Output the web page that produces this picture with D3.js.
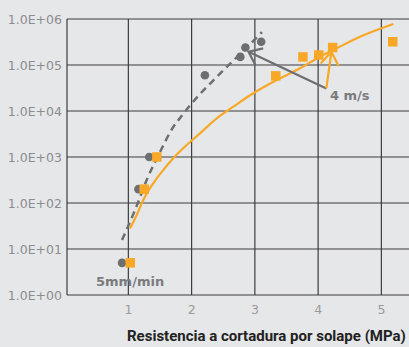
<!DOCTYPE html>
<html>
<head>
<meta charset="utf-8">
<script src="https://cdn.jsdelivr.net/npm/d3@7"></script>
<style>
  html, body { margin: 0; padding: 0; background: #e6e7e9; }
  svg { display: block; }
</style>
</head>
<body>
<svg id="chart" width="409" height="347"></svg>
<script>
// tick labels
const xTicks = [1, 2, 3, 4, 5];
const yTicks = [1, 10, 100, 1000, 1e4, 1e5, 1e6];
const yTickLabels = ["1.0E+00", "1.0E+01", "1.0E+02", "1.0E+03", "1.0E+04", "1.0E+05", "1.0E+06"];

// 5mm/min points (gray circles)
const slowX = [0.9, 1.16, 1.33, 2.21, 2.77, 2.85, 3.1];
const slowY = [5, 200, 1000, 6e4, 1.5e5, 2.4e5, 3.2e5];
// 4 m/s points (orange squares)
const fastX = [1.03, 1.25, 1.45, 3.33, 3.76, 4.01, 4.23, 5.18];
const fastY = [5, 200, 1000, 5.8e4, 1.5e5, 1.65e5, 2.4e5, 3.2e5];

// trend curves
const slowFitX = [0.9, 1.105, 1.29, 1.516, 1.69, 1.848, 1.975, 2.133, 2.397, 2.659, 2.871, 3.113];
const slowFitY = [15.7, 70, 316, 1420, 4060, 7980, 1.32e4, 2.34e4, 5.48e4, 1.25e5, 2.4e5, 5.2e5];
const fastFitX = [1.026, 1.132, 1.236, 1.394, 1.552, 1.71, 1.922, 2.133, 2.397, 2.659, 2.975, 3.345, 3.714, 4.03, 4.24, 4.662, 5.19];
const fastFitY = [28, 55, 116, 268, 522, 937, 1820, 3270, 6930, 1.24e4, 2.43e4, 4.72e4, 8.47e4, 1.51e5, 2.12e5, 4.12e5, 7.8e5];

// annotations
const arrowTail = [4.13, 3.1e4];
const arrowTipSlow = [2.90, 1.95e5];
const arrowTipFast = [4.21, 1.95e5];

var svg = d3.select("#chart");
var W = 409, H = 347;

var x = d3.scaleLinear().domain([0.03, 5.5]).range([67, 413]);
var y = d3.scaleLog().domain([1, 1e6]).range([295, 19]);

var GRID = "#3c3d3f";
var GRAY = "#6d6e70";
var ORANGE = "#f8a826";

// grid
var g = svg.append("g");
g.selectAll(".hgrid")
  .data(yTicks)
  .enter().append("line")
  .attr("x1", x(0.03)).attr("x2", W)
  .attr("y1", d => y(d)).attr("y2", d => y(d))
  .attr("stroke", GRID).attr("stroke-width", 1.2);

g.selectAll(".vgrid")
  .data([0.03].concat(xTicks))
  .enter().append("line")
  .attr("x1", d => x(d)).attr("x2", d => x(d))
  .attr("y1", y(1e6)).attr("y2", y(1))
  .attr("stroke", GRID).attr("stroke-width", 1.2);

// y tick labels
svg.selectAll(".ylab")
  .data(yTicks)
  .enter().append("text")
  .attr("x", 62)
  .attr("y", d => y(d) + 4.5)
  .attr("text-anchor", "end")
  .attr("font-family", "DejaVu Sans")
  .attr("font-size", 12.5)
  .attr("fill", "#8b8c8e")
  .text((d, i) => yTickLabels[i]);

// x tick labels
svg.selectAll(".xlab")
  .data(xTicks)
  .enter().append("text")
  .attr("x", d => x(d))
  .attr("y", 314)
  .attr("text-anchor", "middle")
  .attr("font-family", "DejaVu Sans")
  .attr("font-size", 12.5)
  .attr("fill", "#9a9b9d")
  .text(d => d);

// axis title
svg.append("text")
  .attr("x", 127)
  .attr("y", 341)
  .attr("font-family", "Roboto")
  .attr("font-weight", "bold")
  .attr("font-size", 15)
  .attr("fill", "#222")
  .text("Resistencia a cortadura por solape (MPa)");

// curves
var line = d3.line()
  .x(d => x(d[0]))
  .y(d => y(d[1]))
  .curve(d3.curveMonotoneX);

svg.append("path")
  .attr("d", line(d3.zip(slowFitX, slowFitY)))
  .attr("fill", "none")
  .attr("stroke", GRAY)
  .attr("stroke-width", 2.5)
  .attr("stroke-dasharray", "7,5");

svg.append("path")
  .attr("d", line(d3.zip(fastFitX, fastFitY)))
  .attr("fill", "none")
  .attr("stroke", ORANGE)
  .attr("stroke-width", 2.2);

// points
svg.selectAll(".slow")
  .data(d3.zip(slowX, slowY))
  .enter().append("circle")
  .attr("cx", d => x(d[0]))
  .attr("cy", d => y(d[1]))
  .attr("r", 4.3)
  .attr("fill", GRAY);

var sq = 9.5;
svg.selectAll(".fast")
  .data(d3.zip(fastX, fastY))
  .enter().append("rect")
  .attr("x", d => x(d[0]) - sq / 2)
  .attr("y", d => y(d[1]) - sq / 2)
  .attr("width", sq).attr("height", sq)
  .attr("fill", ORANGE);

// arrows
function arrow(tail, tip, color, armAngle, armLen) {
  var x0 = x(tail[0]), y0 = y(tail[1]);
  var x1 = x(tip[0]), y1 = y(tip[1]);
  var a = Math.atan2(y0 - y1, x0 - x1);
  var p = d3.path();
  p.moveTo(x0, y0);
  p.lineTo(x1, y1);
  p.moveTo(x1 + armLen * Math.cos(a + armAngle), y1 + armLen * Math.sin(a + armAngle));
  p.lineTo(x1, y1);
  p.lineTo(x1 + armLen * Math.cos(a - armAngle), y1 + armLen * Math.sin(a - armAngle));
  svg.append("path")
    .attr("d", p.toString())
    .attr("fill", "none")
    .attr("stroke", color)
    .attr("stroke-width", 2.2);
}
arrow(arrowTail, arrowTipSlow, GRAY, 0.66, 15);
arrow(arrowTail, arrowTipFast, ORANGE, 0.6, 16);

// labels
svg.append("text")
  .attr("x", 330).attr("y", 100)
  .attr("font-family", "DejaVu Sans")
  .attr("font-weight", "bold")
  .attr("font-size", 13)
  .attr("fill", "#7a7b7d")
  .text("4 m/s");

svg.append("text")
  .attr("x", 96).attr("y", 286)
  .attr("font-family", "DejaVu Sans")
  .attr("font-weight", "bold")
  .attr("font-size", 13)
  .attr("fill", "#7a7b7d")
  .text("5mm/min");
</script>
</body>
</html>
